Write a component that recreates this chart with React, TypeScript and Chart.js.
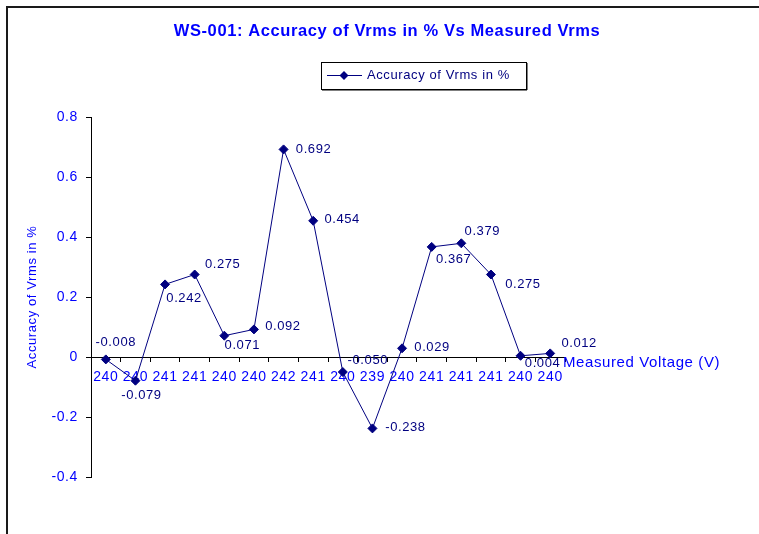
import React, { useEffect, useRef } from 'react';
import { Chart, registerables } from 'chart.js';

Chart.register(...registerables);

// ---- data ----
const categories = ['240', '240', '241', '241', '240', '240', '242', '241', '240', '239', '240', '241', '241', '241', '240', '240'];
const accuracy = [-0.008, -0.079, 0.242, 0.275, 0.071, 0.092, 0.692, 0.454, -0.05, -0.238, 0.029, 0.367, 0.379, 0.275, 0.004, 0.012];
const yTicks = [-0.4, -0.2, 0, 0.2, 0.4, 0.6, 0.8];
const seriesLabel = 'Accuracy of Vrms in %';
const chartTitle = 'WS-001: Accuracy of Vrms in % Vs Measured Vrms';
const xTitle = 'Measured Voltage (V)';
const yTitle = 'Accuracy of Vrms in %';

// label nudges (px) from each point to its data label centre
const labelDx = [10, 6, 19, 28, 18, 29, 30, 29, 25, 33, 30, 22, 21, 32, 22, 29];
const labelDy = [-17, 15, 14, -10, 10, -3, 0, -1, -12, -1, -1, 13, -12, 10, 8, -10];

const FONT = "'Liberation Sans', Arial, Helvetica, sans-serif";
const BLUE = '#0000FF';
const NAVY = '#000080';
const SPACING = '0.6px';

const spacingPlugin = {
  id: 'spacing',
  beforeUpdate(chart: any) {
    chart.ctx.letterSpacing = SPACING;
  },
  beforeDraw(chart: any) {
    chart.ctx.letterSpacing = SPACING;
  },
};

const framePlugin = {
  id: 'frame',
  beforeDraw(chart: any) {
    const ctx = chart.ctx;
    ctx.save();
    ctx.fillStyle = '#1a1a1a';
    ctx.fillRect(6, 6, 2, chart.height);
    ctx.fillRect(6, 6, chart.width, 2);
    ctx.restore();
  },
};

const dataLabelPlugin = {
  id: 'dataLabels',
  afterDatasetsDraw(chart: any) {
    const ctx = chart.ctx;
    const meta = chart.getDatasetMeta(0);
    ctx.save();
    ctx.font = `13px ${FONT}`;
    ctx.fillStyle = NAVY;
    ctx.textAlign = 'center';
    ctx.textBaseline = 'middle';
    meta.data.forEach((pt: any, i: number) => {
      ctx.fillText(accuracy[i].toFixed(3), pt.x + labelDx[i], pt.y + labelDy[i]);
    });
    ctx.restore();
  },
};

const xTitlePlugin = {
  id: 'xTitle',
  afterDraw(chart: any) {
    const ctx = chart.ctx;
    const xs = chart.scales.x;
    const ys = chart.scales.y;
    const y0 = ys.getPixelForValue(0);
    ctx.save();
    ctx.font = `15px ${FONT}`;
    ctx.fillStyle = BLUE;
    ctx.textAlign = 'left';
    ctx.textBaseline = 'alphabetic';
    ctx.fillText(xTitle, xs.right - 2, y0 + 10);
    ctx.restore();
  },
};

const legendPlugin = {
  id: 'customLegend',
  afterDraw(chart: any) {
    const ctx = chart.ctx;
    const bx = 321, by = 62, bw = 205, bh = 27;
    ctx.save();
    // shadow
    ctx.fillStyle = '#000';
    ctx.fillRect(bx + 1, by + bh, bw, 1.5);
    ctx.fillRect(bx + bw, by + 1, 1.5, bh);
    ctx.strokeStyle = '#000';
    ctx.lineWidth = 1;
    ctx.strokeRect(bx + 0.5, by + 0.5, bw, bh);
    const cy = by + 13.5;
    ctx.strokeStyle = NAVY;
    ctx.beginPath();
    ctx.moveTo(bx + 6, cy);
    ctx.lineTo(bx + 41, cy);
    ctx.stroke();
    const cx = bx + 23;
    const r = 4.5;
    ctx.fillStyle = NAVY;
    ctx.beginPath();
    ctx.moveTo(cx, cy - r);
    ctx.lineTo(cx + r, cy);
    ctx.lineTo(cx, cy + r);
    ctx.lineTo(cx - r, cy);
    ctx.closePath();
    ctx.fill();
    ctx.font = `13px ${FONT}`;
    ctx.textAlign = 'left';
    ctx.textBaseline = 'middle';
    ctx.fillText(seriesLabel, bx + 46, cy);
    ctx.restore();
  },
};

export default function App() {
  const canvasRef = useRef<HTMLCanvasElement | null>(null);

  useEffect(() => {
    if (!canvasRef.current) return;
    Chart.defaults.font.family = FONT;
    const chart = new Chart(canvasRef.current, {
      type: 'line',
      data: {
        labels: categories,
        datasets: [
          {
            label: seriesLabel,
            data: accuracy,
            borderColor: NAVY,
            backgroundColor: NAVY,
            borderWidth: 1,
            pointStyle: 'rectRot',
            pointRadius: 4.5,
            pointBorderWidth: 1,
            pointBackgroundColor: NAVY,
            pointBorderColor: NAVY,
            tension: 0,
            fill: false,
          },
        ],
      },
      options: {
        responsive: false,
        animation: false,
        layout: { padding: { left: 15, right: 0, top: 0, bottom: 57 } },
        plugins: {
          legend: { display: false },
          tooltip: { enabled: false },
          title: {
            display: true,
            text: chartTitle,
            color: BLUE,
            font: { family: FONT, size: 16.5, weight: 'bold' },
            padding: { top: 22, bottom: 75.2 },
          },
        },
        scales: {
          x: {
            type: 'category',
            position: { y: 0 } as any,
            offset: true,
            grid: {
              display: true,
              drawOnChartArea: false,
              drawTicks: true,
              tickLength: 4,
              offset: true,
              color: '#000',
            },
            border: { display: true, color: '#000', width: 1 },
            ticks: {
              color: BLUE,
              font: { family: FONT, size: 14 },
              padding: 8,
              maxRotation: 0,
              autoSkip: false,
            },
          },
          y: {
            type: 'linear',
            position: 'left',
            min: -0.4,
            max: 0.8,
            afterBuildTicks: (s: any) => {
              s.ticks = yTicks.map((v) => ({ value: v }));
            },
            afterFit: (s: any) => {
              s.width = 76;
            },
            grid: {
              display: true,
              drawOnChartArea: false,
              drawTicks: true,
              tickLength: 5,
              color: '#000',
            },
            border: { display: true, color: '#000', width: 1 },
            ticks: {
              color: BLUE,
              font: { family: FONT, size: 14 },
              padding: 8,
              callback: (v: any) => String(Number(Number(v).toFixed(1))),
            },
            title: {
              display: true,
              text: yTitle,
              color: BLUE,
              font: { family: FONT, size: 13 },
              padding: { top: 10, bottom: 0 },
            },
          },
          yRight: {
            type: 'linear',
            position: 'right',
            display: true,
            grid: { display: false, drawTicks: false },
            border: { display: false },
            ticks: { display: false },
            afterFit: (s: any) => {
              s.width = 194;
            },
          },
        },
      },
      plugins: [spacingPlugin, framePlugin, dataLabelPlugin, xTitlePlugin, legendPlugin],
    });
    return () => chart.destroy();
  }, []);

  return (
    <div style={{ position: 'absolute', left: 0, top: 0, width: 759, height: 534 }}>
      <canvas ref={canvasRef} width={759} height={534} style={{ display: 'block' }} />
    </div>
  );
}
